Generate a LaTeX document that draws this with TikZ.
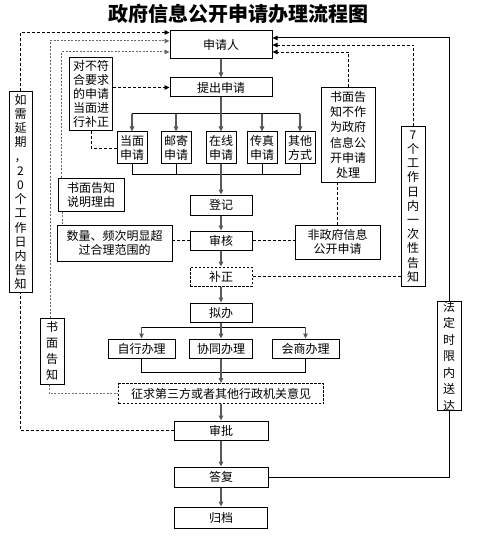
\documentclass[tikz,border=0pt]{standalone}
\usepackage{fontspec}
\setmainfont{Noto Sans CJK SC}
\usetikzlibrary{arrows.meta,calc}
\begin{document}
\begin{tikzpicture}[x=1pt,y=-1pt,
  box/.style={draw=black, line width=1pt, inner sep=0pt, align=center, fill=white,
    font=\fontsize{12}{14}\selectfont},
  dbox/.style={box, dash pattern=on 2.5pt off 1.5pt},
  conn/.style={line width=1pt, draw=black},
  arr/.style={line width=1.2pt, draw=black!65, -{Triangle[length=5pt,width=4.5pt]}},
  dline/.style={line width=0.8pt, dash pattern=on 3pt off 2pt, draw=black},
  darr/.style={dline, -{Triangle[length=5pt,width=4.5pt]}},
  gdline/.style={line width=1pt, dash pattern=on 2pt off 1.5pt, draw=black!55},
  gdarr/.style={gdline, -{Triangle[length=5pt,width=4.5pt]}, draw=black!60},
]
\path[use as bounding box, fill=white] (0,0) rectangle (478,540);

\node[font=\fontsize{20}{22}\selectfont\bfseries] (title) at (238,14) {政府信息公开申请办理流程图};

% main column
\node[box, minimum width=102, minimum height=28] (sqr) at (221,45) {申请人};
\node[box, minimum width=102, minimum height=19] (tcsq) at (221,87.5) {提出申请};
\node[box, minimum width=30, minimum height=32] (dm) at (132,148) {当面\\申请};
\node[box, minimum width=30, minimum height=32] (yj) at (176,148) {邮寄\\申请};
\node[box, minimum width=30, minimum height=32] (zx) at (221,148) {在线\\申请};
\node[box, minimum width=30, minimum height=32] (cz) at (262,148) {传真\\申请};
\node[box, minimum width=30, minimum height=32] (qt) at (300,148) {其他\\方式};
\node[box, minimum width=62, minimum height=20] (dj) at (221,205) {登记};
\node[box, minimum width=62, minimum height=19] (sh) at (221,240.5) {审核};
\node[dbox, minimum width=62, minimum height=19] (bz) at (221,276.5) {补正};
\node[box, minimum width=62, minimum height=19] (nb) at (221,312.5) {拟办};
\node[box, minimum width=67, minimum height=19] (zxbl) at (141.5,348.5) {自行办理};
\node[box, minimum width=63, minimum height=19] (xtbl) at (221,348.5) {协同办理};
\node[box, minimum width=67, minimum height=19] (hsbl) at (305.5,348.5) {会商办理};
\node[dbox, minimum width=205, minimum height=20] (zq) at (221,393.5) {征求第三方或者其他行政机关意见};
\node[box, minimum width=94, minimum height=19] (sp) at (221,430.5) {审批};
\node[box, minimum width=94, minimum height=20] (df) at (221,477) {答复};
\node[box, minimum width=93, minimum height=21] (gd) at (221,517.5) {归档};

% left side
\node[box, minimum width=43, minimum height=73, font=\fontsize{12}{14.2}\selectfont] (bfh) at (91,94)
  {对不符\\合要求\\的申请\\当面进\\行补正};
\node[box, minimum width=23, minimum height=200, font=\fontsize{12}{14.2}\selectfont] (yq) at (20.5,192)
  {如\\需\\延\\期\\，\\2\\0\\个\\工\\作\\日\\内\\告\\知};
\node[box, minimum width=24, minimum height=66, font=\fontsize{12}{16}\selectfont] (smgz) at (52,351)
  {书\\面\\告\\知};
\node[box, minimum width=66, minimum height=33] (smly) at (91,194.5) {书面告知\\说明理由};
\node[box, minimum width=115, minimum height=36] (sl) at (114.5,243) {数量、频次明显超\\过合理范围的};

% right side
\node[box, minimum width=54, minimum height=94, font=\fontsize{12}{15.2}\selectfont] (bzw) at (348,135)
  {书面告\\知不作\\为政府\\信息公\\开申请\\处理};
\node[box, minimum width=85, minimum height=34] (fzf) at (337.5,242) {非政府信息\\公开申请};
\node[box, minimum width=24, minimum height=159, font=\fontsize{12}{14.2}\selectfont] (qgr) at (413,206.5)
  {7\\个\\工\\作\\日\\内\\一\\次\\性\\告\\知};
\node[box, minimum width=24, minimum height=104, font=\fontsize{12}{16.5}\selectfont] (fd) at (449,356)
  {法\\定\\时\\限\\内\\送\\达};

% main solid connectors
\draw[arr] (sqr) -- (tcsq);
\coordinate (b1) at (221,114);
\draw[conn] (dm.north |- b1) -- (qt.north |- b1);
\draw[arr] (tcsq.south) -- (zx.north);
\foreach \n in {dm,yj,cz,qt} \draw[arr] (\n.north |- b1) -- (\n.north);
\coordinate (b2) at (221,174);
\draw[conn] (dm.south) -- (dm.south |- b2) -- (qt.south |- b2) -- (qt.south);
\draw[conn] (yj.south) -- (yj.south |- b2);
\draw[conn] (cz.south) -- (cz.south |- b2);
\draw[arr] (zx.south) -- (dj.north);
\draw[arr] (dj) -- (sh);
\draw[arr] (sh) -- (bz);
\draw[arr] (bz) -- (nb);
\coordinate (b3) at (221,327);
\draw[conn] (zxbl.north |- b3) -- (hsbl.north |- b3);
\draw[arr] (nb.south) -- (xtbl.north);
\draw[arr] (zxbl.north |- b3) -- (zxbl.north);
\draw[arr] (hsbl.north |- b3) -- (hsbl.north);
\coordinate (b4) at (221,372);
\draw[conn] (zxbl.south) -- (zxbl.south |- b4) -- (hsbl.south |- b4) -- (hsbl.south);
\draw[arr] (xtbl.south) -- (zq.north);
\draw[arr] (zq) -- (sp);
\draw[arr] (sp) -- (df);
\draw[arr] (df) -- (gd);

% right solid loop
\draw[conn] (df.east) -| (fd.south);
\draw[conn, -{Triangle[length=5pt,width=4.5pt]}] (fd.north) |- ([yshift=7pt]sqr.east);

% right dashed
\draw[darr] (qgr.north) |- (sqr.east);
\draw[darr] (bzw.north) |- ([yshift=-7pt]sqr.east);
\draw[dline] (fzf.north) -- (fzf.north |- bzw.south);
\draw[dline] (sh.east) -- (sh.east -| fzf.west);
\draw[dline] (bz.east) -- (bz.east -| qgr.west);

% left dashed
\draw[dline] (sh.west) -- (sh.west -| sl.east);
\draw[darr] (bfh.east |- tcsq.west) -- (tcsq.west);
\draw[dline] (bfh.south) |- (dm.west);
\draw[gdline] ([xshift=5pt]smly.south west) -- ([xshift=5pt]smly.south west |- sl.north);
\draw[gdarr] ([xshift=4pt]smly.north west) |- ([yshift=-7pt]sqr.west);
\draw[gdarr] ([xshift=-2pt]smgz.north) |- ([yshift=4pt]sqr.west);
\draw[gdline] ([xshift=-3pt]smgz.south) |- (zq.west);
\draw[dline] (sp.west) -| (yq.south);
\draw[darr] (yq.north) |- ([yshift=12.5pt]sqr.west);
\end{tikzpicture}
\end{document}
